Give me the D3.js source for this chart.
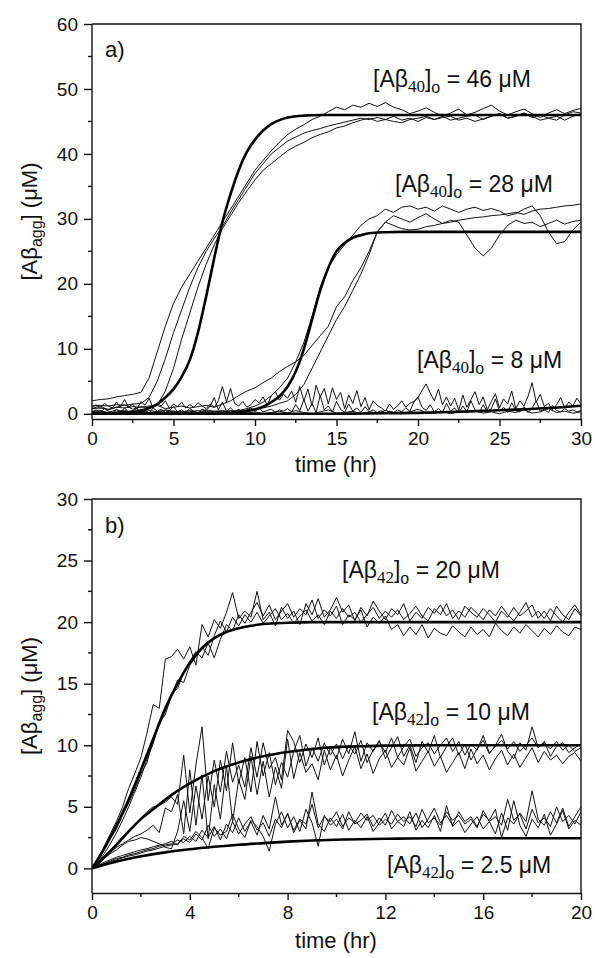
<!DOCTYPE html>
<html>
<head>
<meta charset="utf-8">
<script src="https://cdn.jsdelivr.net/npm/d3@7"></script>
<style>
  body { margin: 0; background: #fff; }
  svg { display: block; font-family: "Liberation Sans", Arial, sans-serif; }
  .run { fill: none; stroke: #111; stroke-width: 1; stroke-linejoin: round; }
  .fit { fill: none; stroke: #000; stroke-width: 2.6; }
  .axis path, .axis line { stroke: #111; stroke-width: 1.4; }
  .axis text { font-size: 19px; fill: #111; }
</style>
</head>
<body>
<div class="container"></div>
<script>
const WIDTH = 595;
const HEIGHT = 958;

// ---- panel a : Abeta40, time step 0.5 hr (runs) / 0.25 hr (8 uM runs)
var a46Run1 = [2.0,2.2,2.3,2.6,2.8,3.0,3.3,5.5,9.5,13.5,
  17.0,19.5,21.5,23.5,25.5,27.5,29.5,31.5,33.5,35.5,
  37.5,39.0,40.5,41.8,43.0,43.8,44.5,45.3,45.8,46.5,
  47.2,46.8,47.5,47.2,47.8,47.3,47.9,47.2,46.8,46.2,
  46.6,47.1,46.4,45.8,46.3,46.9,46.0,46.4,47.0,47.5,
  46.6,46.0,46.5,46.9,46.2,45.6,46.3,46.8,46.2,46.7,
  47.0];
var a46Run2 = [1.2,1.3,1.2,1.4,1.3,1.5,1.6,2.5,5.0,8.5,
  12.5,16.0,19.5,22.5,25.0,27.0,28.8,31.0,33.0,35.0,
  37.0,38.5,40.0,41.0,42.0,42.6,43.2,43.6,43.9,44.3,
  44.6,44.9,45.2,45.5,45.3,45.6,45.3,45.0,44.8,45.3,
  45.5,45.8,45.3,45.6,45.8,45.2,45.5,45.0,45.4,45.8,
  46.2,45.5,45.8,46.3,45.8,45.2,45.5,45.2,46.0,46.5,
  46.3];
var a46Run3 = [0.8,0.9,0.7,1.0,0.9,1.1,1.0,1.2,1.3,3.5,
  7.0,11.5,15.5,19.5,23.0,26.0,28.5,30.5,32.5,34.3,
  36.0,37.5,38.5,39.5,40.5,41.2,41.8,42.5,43.0,43.4,
  44.0,44.3,44.8,45.2,45.5,45.0,45.3,45.8,45.2,45.5,
  45.0,45.6,45.3,45.8,45.2,45.5,45.8,46.0,45.3,45.8,
  46.2,45.5,45.8,46.3,45.6,46.0,45.5,45.8,45.2,45.8,
  46.2];
var a28Run1 = [0.3,0.5,0.2,0.6,0.3,0.4,0.2,0.5,0.3,0.6,
  0.4,0.3,0.5,0.2,0.6,0.4,0.5,0.3,0.5,0.8,
  1.2,1.8,2.8,4.0,5.5,8.0,11.0,15.0,19.5,22.5,
  24.5,26.0,27.5,29.0,30.0,30.5,31.5,31.0,31.8,32.0,
  31.5,31.8,31.2,32.0,31.5,31.0,31.5,31.8,31.3,31.6,
  31.2,30.5,30.8,31.5,32.0,30.5,28.0,26.2,26.5,28.3,
  29.5];
var a28Run2 = [0.2,0.4,0.1,0.3,0.5,0.2,0.4,0.1,0.3,0.2,
  0.4,0.2,0.3,0.5,0.2,0.4,0.3,0.5,0.4,0.6,
  0.7,0.9,1.2,1.6,2.0,3.0,4.5,7.0,9.5,12.0,
  14.5,16.5,19.0,21.5,24.5,28.0,29.5,29.0,28.5,28.3,
  28.4,28.8,29.0,29.3,29.5,29.8,30.0,30.2,30.3,30.5,
  30.6,30.8,31.0,30.7,31.2,31.5,31.6,31.8,32.0,32.1,
  32.3];
var a28Run3 = [0.8,1.2,0.6,1.0,1.4,0.7,1.1,0.9,1.3,0.8,
  1.0,1.2,0.9,1.1,1.3,1.0,1.5,2.0,2.8,3.5,
  4.0,4.8,5.5,6.5,7.3,8.0,9.0,10.5,12.0,13.5,
  16.5,18.0,20.5,22.5,25.0,28.0,29.5,30.5,30.0,29.5,
  30.2,30.8,30.0,29.3,29.8,29.5,27.5,25.5,24.3,25.5,
  27.5,29.0,29.8,29.3,29.5,28.8,29.3,29.8,29.2,29.6,
  29.8];
var a8Run1 = [1.0,1.4,0.8,1.6,1.2,0.9,1.8,1.1,
  2.2,1.0,1.5,0.7,1.9,1.3,2.4,0.9,
  1.6,1.2,2.0,0.8,1.5,1.1,1.8,0.9,
  1.4,1.0,1.7,1.2,0.8,1.5,1.0,2.0,
  4.2,1.8,3.9,1.6,1.2,1.9,1.0,1.4,
  2.2,1.7,2.6,1.3,2.8,3.4,2.1,3.0,
  2.4,3.5,1.8,4.2,2.0,3.8,1.2,4.4,
  2.6,3.9,1.5,4.0,2.2,3.3,0.8,2.9,
  1.6,3.6,1.1,2.5,0.6,2.0,1.3,0.9,
  0.4,1.5,0.7,1.2,2.0,1.0,1.6,1.9,
  2.5,3.6,4.6,3.2,2.0,3.8,1.4,2.6,
  1.2,2.4,0.5,2.9,1.0,2.2,3.4,1.4,
  2.6,0.6,1.9,3.1,0.9,2.3,1.5,3.5,
  0.8,2.0,1.2,2.7,4.8,1.8,3.0,1.1,
  1.6,0.6,1.4,2.5,0.9,1.8,1.2,2.4,
  1.5];
var a8Run2 = [0.3,0.6,0.2,0.8,0.4,0.1,0.7,0.3,
  0.9,0.2,0.5,0.8,0.3,0.6,0.1,0.9,
  0.4,0.7,0.2,0.5,1.1,0.3,0.6,0.2,
  0.8,0.4,0.1,0.7,0.5,1.2,2.5,0.6,
  1.8,0.4,0.9,0.3,0.7,0.2,0.6,0.9,
  0.4,0.8,0.3,0.5,0.7,0.2,0.6,0.4,
  0.8,0.3,1.4,0.5,2.2,0.4,1.6,0.2,
  2.8,0.6,1.2,0.3,1.9,0.7,0.2,1.5,
  0.4,0.9,0.2,1.1,0.3,0.6,0.2,0.5,
  0.1,0.4,0.2,0.6,0.3,0.9,0.4,1.8,
  2.6,1.0,0.5,1.4,0.3,0.8,0.2,1.6,
  0.4,0.9,0.1,1.2,0.3,2.0,0.6,0.2,
  1.4,0.3,0.8,2.3,0.4,1.0,0.2,1.7,
  0.5,0.3,1.1,0.2,0.9,2.0,0.4,0.7,
  0.2,1.3,0.5,0.3,0.8,0.4,0.6,0.3,
  0.5];
var a8Run3 = [0.1,0.3,0.0,0.2,0.4,0.1,0.3,0.0,0.2,0.5,
  0.1,0.3,0.2,0.0,0.4,0.1,0.3,0.2,0.6,0.1,
  0.3,0.0,0.2,0.4,0.1,0.5,0.2,0.0,0.3,0.6,
  0.1,0.2,0.4,0.0,0.3,0.1,0.5,0.2,0.0,0.3,
  0.7,0.2,0.1,0.4,0.0,0.3,0.2,0.5,0.1,0.3,
  0.0,0.4,0.2,0.6,0.1,0.3,0.8,0.2,0.4,0.1,
  0.3];

// fitted curves, panel a
var a46FitTime = [0,1,2,2.5,3,3.5,4,4.5,5,5.5,6,6.5,7,7.5,8,8.5,9,9.5,10,10.5,11,11.5,12,12.5,13,14,30];
var a46FitVals = [0,0.05,0.18,0.3,0.5,0.9,1.5,2.5,3.8,5.7,8.3,12.5,18,24,29.5,33.8,37.5,40.3,42.2,43.6,44.6,45.2,45.6,45.8,45.9,46,46];
var a28FitTime = [0,8,9,9.5,10,10.5,11,11.5,12,12.5,13,13.5,14,14.5,15,15.5,16,16.5,17,18,19,30];
var a28FitVals = [0,0,0.2,0.4,0.7,1.1,1.8,2.7,4.2,6.5,10,14.5,19,22.5,25,26.3,27.1,27.5,27.8,27.95,28,28];
var a8FitTime = [0,14,16,18,20,22,24,26,28,30];
var a8FitVals = [0,0,0.03,0.08,0.15,0.28,0.45,0.65,0.9,1.25];

// ---- panel b : Abeta42, time step 0.25 hr
var b20Run1 = [0,0.8,1.8,2.8,3.8,5.0,6.5,7.7,
  9.0,11.0,13.3,13.0,17.0,17.2,17.8,17.0,
  18.0,16.5,19.8,18.8,20.2,19.5,20.8,22.4,
  20.3,20.9,20.4,22.5,20.2,20.8,19.7,21.2,
  20.3,20.9,19.8,21.5,20.6,21.9,20.4,21.0,
  22.0,20.8,21.4,20.1,21.2,20.5,21.7,20.9,
  20.2,21.1,20.6,21.5,20.1,20.8,20.3,21.2,
  20.7,21.4,20.5,21.0,20.2,21.3,20.8,20.4,
  21.1,20.6,20.0,20.9,20.4,21.2,20.5,20.9,
  21.4,20.3,20.9,20.1,21.3,20.6,20.2,21.1,
  20.5];
var b20Run2 = [0,0.6,1.5,2.4,3.2,4.3,5.3,6.4,
  7.7,8.6,10.5,11.6,12.8,14.2,14.6,15.9,
  16.8,17.6,17.1,18.3,17.1,18.6,19.8,19.3,
  20.6,19.9,20.8,21.6,20.5,21.4,20.2,20.9,
  21.5,20.4,21.1,20.6,21.8,20.3,21.0,20.5,
  21.3,19.8,20.6,20.2,21.0,19.6,20.4,19.9,
  20.5,19.4,19.8,18.9,19.6,19.0,19.8,18.7,
  19.5,19.1,18.9,19.7,19.2,18.8,19.6,19.0,
  19.4,18.8,19.9,19.3,18.9,19.6,19.1,19.8,
  19.3,18.8,19.5,19.0,19.7,19.2,18.9,19.6,
  19.4];
var b20Run3 = [0,0.5,1.2,2.0,2.9,3.9,5.0,6.2,
  7.4,8.9,10.1,11.8,12.5,14.0,15.3,15.1,
  16.5,17.2,18.0,17.3,18.9,20.1,19.2,20.4,
  19.7,20.6,20.0,20.8,19.9,20.5,21.1,20.2,
  20.7,19.9,20.5,21.0,20.1,20.6,19.8,20.9,
  20.3,21.1,20.4,20.8,20.0,20.6,21.2,20.3,
  20.9,20.4,21.0,20.2,20.7,21.3,20.5,20.1,
  21.1,20.6,21.5,20.3,20.9,20.4,21.2,20.7,
  20.2,21.0,20.5,21.3,20.6,20.1,20.8,21.6,
  20.4,20.9,20.3,21.1,20.5,20.0,20.8,21.4,
  20.6];
var b10Run1 = [0,0.5,1.0,1.5,2.0,2.6,3.0,3.6,
  4.1,4.6,5.0,5.1,5.4,5.8,5.2,9.2,
  4.5,8.4,11.5,5.5,8.8,6.2,9.5,7.0,
  8.4,6.6,9.8,7.4,10.2,8.1,9.0,7.2,
  11.2,10.3,8.6,10.1,9.0,10.6,8.4,9.8,
  8.9,10.5,9.3,11.1,8.7,10.2,9.5,10.4,
  8.9,9.8,10.7,9.1,10.0,8.6,10.3,9.4,
  10.8,9.0,9.9,10.6,9.2,10.1,8.8,9.7,
  10.4,9.3,10.0,10.9,9.5,8.9,10.2,9.6,
  11.5,9.8,10.3,9.1,9.9,10.2,9.4,9.8,
  10.1];
var b10Run2 = [0,0.4,0.9,1.3,1.7,2.0,2.3,2.6,
  2.8,3.1,3.5,2.9,4.9,4.6,6.0,2.8,
  8.0,3.5,7.6,2.4,6.8,4.0,8.3,3.8,
  7.2,5.6,9.1,6.0,8.7,5.8,8.2,6.5,
  10.5,7.3,9.4,7.8,8.5,7.2,9.6,8.0,
  9.2,7.5,8.8,9.9,8.1,9.3,7.7,8.9,
  9.6,8.2,9.0,8.4,9.8,7.9,8.7,9.5,
  8.3,9.1,7.8,8.6,9.4,8.1,9.7,8.5,
  9.2,8.0,8.9,9.6,8.4,9.3,8.2,9.0,
  9.8,8.6,9.5,8.8,9.2,8.5,9.1,9.4,
  8.7];
var b10Run3 = [0,0.3,0.8,1.2,1.5,1.9,2.2,2.3,
  2.5,2.4,2.2,2.0,1.7,1.6,3.0,5.5,
  3.0,6.7,4.0,7.5,5.0,8.8,6.3,10.2,
  6.9,9.0,6.2,10.3,7.5,9.4,6.8,8.6,
  7.4,9.5,10.8,8.3,9.8,8.7,10.2,9.2,
  10.1,8.9,10.0,9.3,10.4,8.6,9.6,10.3,
  9.4,10.6,9.0,9.9,10.5,9.1,9.8,10.2,
  9.3,10.0,10.6,9.5,10.3,9.2,10.1,9.6,
  10.8,9.4,9.9,10.4,9.7,10.3,9.5,10.0,
  10.6,9.8,10.2,9.7,10.3,9.6,10.0,9.5,
  9.8];
var b25Run1 = [0,0.2,0.4,0.6,0.8,0.9,1.1,1.2,
  1.35,1.5,1.6,1.8,1.9,2.0,2.3,2.1,
  2.6,2.2,3.1,2.5,3.4,2.3,3.6,2.9,
  4.1,3.0,3.8,2.7,4.3,3.2,5.8,3.5,
  4.4,3.1,4.0,3.6,5.2,3.3,4.2,3.8,
  4.6,3.4,4.1,3.7,4.5,3.9,4.3,3.5,
  4.0,3.6,4.4,3.8,4.2,3.4,4.8,3.7,
  4.1,3.5,4.6,3.9,4.3,3.6,4.0,3.3,
  4.7,3.8,4.2,3.5,5.6,3.9,4.4,3.2,
  4.8,3.7,4.1,3.4,5.0,3.8,4.3,3.6,
  4.6];
var b25Run2 = [0,0.15,0.35,0.55,0.7,0.85,1.0,1.1,
  1.25,1.4,1.5,1.65,1.8,1.9,2.0,2.4,
  2.1,2.8,2.3,3.5,2.6,3.2,2.4,3.8,
  2.8,3.6,4.2,3.1,3.7,2.6,4.0,3.3,
  4.5,2.9,3.9,3.2,6.2,3.6,3.0,4.1,
  3.4,4.4,3.1,3.9,3.3,4.2,3.0,3.7,
  4.5,3.2,3.8,3.4,4.6,3.1,3.9,3.3,
  4.3,3.0,5.1,3.4,3.9,2.9,3.6,4.2,
  3.2,3.8,2.8,4.5,3.1,5.5,3.5,2.6,
  4.0,3.3,4.4,2.7,3.6,4.7,3.2,3.9,
  3.5];
var b25Run3 = [0,0.25,0.5,0.7,0.9,1.05,1.2,1.35,
  1.5,1.6,1.75,1.9,2.0,2.2,1.9,2.6,
  2.3,3.0,2.5,1.6,3.3,2.7,3.0,4.4,
  3.2,2.5,3.9,3.4,2.6,1.4,3.6,4.6,
  3.3,4.2,3.0,4.8,3.7,1.8,4.3,3.5,
  4.0,3.2,4.6,3.6,3.9,4.4,3.4,4.1,
  3.5,4.7,3.8,4.2,3.6,4.5,3.3,4.0,
  4.9,3.7,4.3,3.5,4.6,3.8,4.2,3.4,
  4.4,3.9,4.8,2.5,4.1,3.6,4.5,3.8,
  6.3,4.0,3.5,4.6,3.7,4.9,3.4,4.2,
  5.0];

// fitted curves, panel b
var b20FitTime = [0,0.5,1,1.5,2,2.5,3,3.5,4,4.5,5,5.5,6,6.5,7,8,9,10,20];
var b20FitVals = [0,1.6,3.5,5.6,8,10.5,13,15,16.7,17.9,18.7,19.2,19.5,19.7,19.85,19.95,20,20,20];
var b10FitTime = [0,0.5,1,1.5,2,2.5,3,3.5,4,5,6,7,8,9,10,11,12,14,20];
var b10FitVals = [0,0.9,1.9,3.0,4.0,4.8,5.6,6.3,6.9,7.9,8.6,9.1,9.45,9.7,9.85,9.92,9.97,10,10];
var b25FitTime = [0,0.5,1,1.5,2,3,4,5,6,7,8,9,10,12,14,20];
var b25FitVals = [0,0.3,0.55,0.78,0.98,1.3,1.55,1.75,1.92,2.05,2.17,2.26,2.33,2.4,2.45,2.45];

// ticks
var aXTicks = [0,5,10,15,20,25,30];
var aXMinor = [2.5,7.5,12.5,17.5,22.5,27.5];
var aYTicks = [0,10,20,30,40,50,60];
var aYMinor = [5,15,25,35,45,55];
var bXTicks = [0,4,8,12,16,20];
var bXMinor = [2,6,10,14,18];
var bYTicks = [0,5,10,15,20,25,30];
var bYMinor = [2.5,7.5,12.5,17.5,22.5,27.5];

// concentration labels: [subscript, value text]
var aLabels = [["40", "46"], ["40", "28"], ["40", "8"]];
var bLabels = [["42", "20"], ["42", "10"], ["42", "2.5"]];

var translate = function(x, y){
  return "translate(" + x + "," + y + ")";
};

var svg = d3.select('.container').append('svg')
  .attr('width', WIDTH)
  .attr('height', HEIGHT);

var makeConcLabel = function(g, x, y, lab){
  var t = g.append('text')
    .attr('x', x).attr('y', y)
    .style('font-size', '23px').attr('fill', '#111');
  t.append('tspan').text('[A\u03b2');
  t.append('tspan').attr('dy', 5)
    .style('font-family', '"Liberation Serif", "Times New Roman", serif')
    .style('font-size', '17px').text(lab[0]);
  t.append('tspan').attr('dy', -5).text(']');
  t.append('tspan').attr('dy', 6).style('font-size', '16px').text('o');
  t.append('tspan').attr('dy', -6).text(' = ' + lab[1] + ' \u03bcM');
};

var drawPanel = function(p){
  var x = d3.scaleLinear().domain(p.xDomain).range([92, 581]);
  var y = d3.scaleLinear().domain(p.yDomain).range([p.bottom, p.top]);

  var g = svg.append('g');
  var clipId = 'clip' + p.name;
  svg.append('clipPath').attr('id', clipId)
    .append('rect')
    .attr('x', 92).attr('y', p.top)
    .attr('width', 489).attr('height', p.bottom - p.top);

  var plot = g.append('g').attr('clip-path', 'url(#' + clipId + ')');

  p.runs.forEach(function(r){
    var line = d3.line()
      .x(function(d, i){ return x(i * r.step); })
      .y(function(d){ return y(d); });
    plot.append('path').attr('class', 'run').attr('d', line(r.vals));
  });

  p.fits.forEach(function(f){
    var pts = f.t.map(function(t, i){ return [t, f.v[i]]; });
    var line = d3.line()
      .x(function(d){ return x(d[0]); })
      .y(function(d){ return y(d[1]); })
      .curve(d3.curveMonotoneX);
    plot.append('path').attr('class', 'fit').attr('d', line(pts));
  });

  // frame (top + right)
  g.append('path')
    .attr('d', 'M92,' + p.top + 'H581V' + p.bottom)
    .attr('fill', 'none').attr('stroke', '#111').attr('stroke-width', 1.4);

  var xAxis = d3.axisBottom(x).tickValues(p.xTicks).tickSize(7).tickSizeOuter(0).tickPadding(6);
  var xAxisG = g.append('g').attr('class', 'axis')
    .attr('transform', translate(0, p.bottom)).call(xAxis);
  xAxisG.selectAll('.minor').data(p.xMinor).enter().append('line')
    .attr('class', 'minor')
    .attr('x1', function(d){ return x(d); }).attr('x2', function(d){ return x(d); })
    .attr('y1', 0).attr('y2', 4);

  var yAxis = d3.axisLeft(y).tickValues(p.yTicks).tickSize(8).tickSizeOuter(0).tickPadding(6);
  var yAxisG = g.append('g').attr('class', 'axis')
    .attr('transform', translate(92, 0)).call(yAxis);
  yAxisG.select('.domain').attr('d', 'M0,' + p.bottom + 'V' + p.top);
  yAxisG.selectAll('.minor').data(p.yMinor).enter().append('line')
    .attr('class', 'minor')
    .attr('y1', function(d){ return y(d); }).attr('y2', function(d){ return y(d); })
    .attr('x1', 0).attr('x2', -4);

  svg.selectAll('.axis .domain').attr('stroke-width', 1.4);

  // x title
  g.append('text')
    .attr('x', 336).attr('y', p.xTitleY)
    .attr('text-anchor', 'middle')
    .style('font-size', '22px').attr('fill', '#111')
    .text('time (hr)');

  // y title
  var yt = g.append('text')
    .attr('transform', translate(37, (p.top + p.bottom) / 2) + ' rotate(-90)')
    .attr('text-anchor', 'middle')
    .style('font-size', '22px').attr('fill', '#111');
  yt.append('tspan').text('[A\u03b2');
  yt.append('tspan').attr('dy', 5).style('font-size', '16px').text('agg');
  yt.append('tspan').attr('dy', -5).text('] (\u03bcM)');

  // panel letter
  g.append('text')
    .attr('x', 105).attr('y', p.letterY)
    .style('font-size', '22px').attr('fill', '#111')
    .text(p.name + ')');

  p.labels.forEach(function(lab, i){
    makeConcLabel(g, p.labelPos[i][0], p.labelPos[i][1], lab);
  });
};

drawPanel({
  name: 'a', top: 24, bottom: 419,
  xDomain: [0, 30], yDomain: [-0.8, 60],
  xTicks: aXTicks, xMinor: aXMinor, yTicks: aYTicks, yMinor: aYMinor,
  runs: [
    {step: 0.25, vals: a8Run1}, {step: 0.25, vals: a8Run2}, {step: 0.5, vals: a8Run3},
    {step: 0.5, vals: a46Run1}, {step: 0.5, vals: a46Run2}, {step: 0.5, vals: a46Run3},
    {step: 0.5, vals: a28Run1}, {step: 0.5, vals: a28Run2}, {step: 0.5, vals: a28Run3}
  ],
  fits: [
    {t: a46FitTime, v: a46FitVals}, {t: a28FitTime, v: a28FitVals}, {t: a8FitTime, v: a8FitVals}
  ],
  labels: aLabels,
  labelPos: [[373, 87], [395, 192], [417, 368]],
  letterY: 57, xTitleY: 472
});

drawPanel({
  name: 'b', top: 499, bottom: 893,
  xDomain: [0, 20], yDomain: [-2, 30],
  xTicks: bXTicks, xMinor: bXMinor, yTicks: bYTicks, yMinor: bYMinor,
  runs: [
    {step: 0.25, vals: b20Run1}, {step: 0.25, vals: b20Run2}, {step: 0.25, vals: b20Run3},
    {step: 0.25, vals: b10Run1}, {step: 0.25, vals: b10Run2}, {step: 0.25, vals: b10Run3},
    {step: 0.25, vals: b25Run1}, {step: 0.25, vals: b25Run2}, {step: 0.25, vals: b25Run3}
  ],
  fits: [
    {t: b20FitTime, v: b20FitVals}, {t: b10FitTime, v: b10FitVals}, {t: b25FitTime, v: b25FitVals}
  ],
  labels: bLabels,
  labelPos: [[342, 578], [372, 720], [387, 873]],
  letterY: 533, xTitleY: 948
});
</script>
</body>
</html>
